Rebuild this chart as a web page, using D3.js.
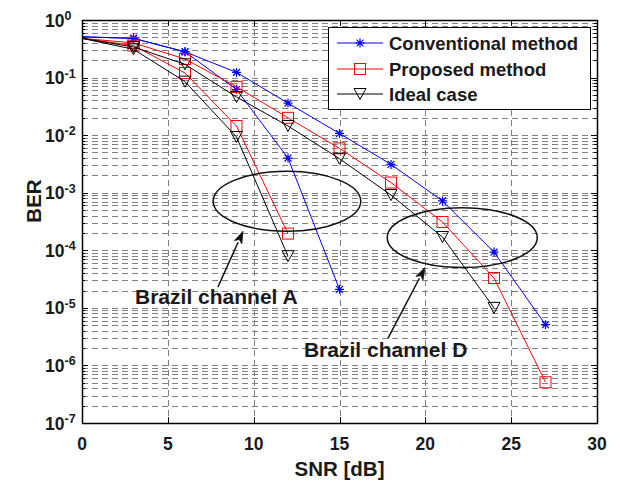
<!DOCTYPE html>
<html>
<head>
<meta charset="utf-8">
<script src="https://cdn.jsdelivr.net/npm/d3@7"></script>
<style>
  html, body { margin: 0; padding: 0; background: #fff; }
  svg { display: block; font-family: "Liberation Sans", Arial, sans-serif; }
</style>
</head>
<body>
<svg id="chart" width="620" height="481"></svg>
<script>
// SNR sample points (dB)
const snr = [0, 3, 6, 9, 12, 15, 18, 21, 24, 27];

// BER curves, Brazil channel A
const convA  = [0.51, 0.48, 0.28, 0.062, 0.0040, 2.1e-5];
const propA  = [0.48, 0.36, 0.12, 0.0144, 1.95e-4];
const idealA = [0.48, 0.31, 0.085, 0.0093, 7.9e-5];

// BER curves, Brazil channel D
const convD  = [0.51, 0.48, 0.28, 0.123, 0.036, 0.0107, 0.0031, 7.2e-4, 9.3e-5, 5.1e-6];
const propD  = [0.48, 0.40, 0.21, 0.069, 0.020, 0.0059, 0.0015, 3.1e-4, 3.3e-5, 5.1e-7];
const idealD = [0.48, 0.34, 0.17, 0.046, 0.0144, 0.0039, 9.1e-4, 1.7e-4, 1.0e-5];

// Legend entries
const legendLabels = ["Conventional method", "Proposed method", "Ideal case"];

// Axis ticks
const xTicks = [0, 5, 10, 15, 20, 25, 30];
const yExponents = [0, -1, -2, -3, -4, -5, -6, -7];

// Annotations (SNR dB, BER)
const ellipseNotes = [
  { cx: 11.94, cy: 7.1e-4, rxDb: 4.3, ryDec: 0.52 },
  { cx: 22.15, cy: 1.66e-4, rxDb: 4.37, ryDec: 0.52 }
];
const arrowNotes = [
  { x1: 7.92, y1: 2.3e-5, x2: 9.38, y2: 2.14e-4 },
  { x1: 17.82, y1: 2.95e-6, x2: 19.98, y2: 5.0e-5 }
];
const textNotes = [
  { x: 3.09, y: 1.15e-5, label: "Brazil channel A" },
  { x: 12.93, y: 1.38e-6, label: "Brazil channel D" }
];

const styles = {
  conv:  { color: "#0000ff", marker: "star" },
  prop:  { color: "#ff0000", marker: "square" },
  ideal: { color: "#000000", marker: "tri" }
};

const series = [
  { key: "conv",  values: convA },
  { key: "conv",  values: convD },
  { key: "prop",  values: propA },
  { key: "prop",  values: propD },
  { key: "ideal", values: idealA },
  { key: "ideal", values: idealD }
];

const svg = d3.select("#chart");
const pLeft = 82, pRight = 597, pTop = 20, pBottom = 423;

const x = d3.scaleLinear().domain([0, 30]).range([pLeft, pRight]);
const y = d3.scaleLog().domain([1e-7, 1]).range([pBottom, pTop]);

// Grid: dashed lines at every 1..9 x 10^n and at each x tick
const gridVals = [];
for (let e = -7; e < 0; e++) {
  for (let k = 1; k <= 9; k++) gridVals.push(k * Math.pow(10, e));
}
const grid = svg.append("g").attr("stroke", "#808080").attr("stroke-width", 1)
  .attr("stroke-dasharray", "6,4").attr("fill", "none");
grid.selectAll("line.h").data(gridVals.filter(v => v > 1e-7)).join("line")
  .attr("class", "h")
  .attr("x1", pLeft).attr("x2", pRight)
  .attr("y1", d => Math.round(y(d)) + 0.5).attr("y2", d => Math.round(y(d)) + 0.5);
grid.selectAll("line.v").data(xTicks.filter(t => t > 0 && t < 30)).join("line")
  .attr("class", "v")
  .attr("y1", pTop).attr("y2", pBottom)
  .attr("x1", d => Math.round(x(d)) + 0.5).attr("x2", d => Math.round(x(d)) + 0.5);

// Tick marks (inward, on all four sides)
const ticks = svg.append("g").attr("stroke", "#000").attr("stroke-width", 1);
xTicks.forEach(t => {
  const px = Math.round(x(t)) + 0.5;
  ticks.append("line").attr("x1", px).attr("x2", px).attr("y1", pBottom).attr("y2", pBottom - 6);
  ticks.append("line").attr("x1", px).attr("x2", px).attr("y1", pTop).attr("y2", pTop + 6);
});
gridVals.concat([1]).forEach(v => {
  const py = Math.round(y(v)) + 0.5;
  const major = Math.abs(Math.log10(v) - Math.round(Math.log10(v))) < 1e-9;
  const len = major ? 6 : 3;
  ticks.append("line").attr("x1", pLeft).attr("x2", pLeft + len).attr("y1", py).attr("y2", py);
  ticks.append("line").attr("x1", pRight).attr("x2", pRight - len).attr("y1", py).attr("y2", py);
});

// Curves
const clipId = "plotclip";
svg.append("clipPath").attr("id", clipId).append("rect")
  .attr("x", pLeft).attr("y", pTop).attr("width", pRight - pLeft).attr("height", pBottom - pTop);

const line = d3.line().x(d => x(d[0])).y(d => y(d[1]));

function drawMarker(g, type, cx, cy, color) {
  if (type === "star") {
    const r = 4.5, r2 = 3.4;
    g.append("path")
      .attr("d", `M${cx - r},${cy}H${cx + r}M${cx},${cy - r}V${cy + r}` +
                 `M${cx - r2},${cy - r2}L${cx + r2},${cy + r2}M${cx - r2},${cy + r2}L${cx + r2},${cy - r2}`)
      .attr("stroke", color).attr("stroke-width", 1.2).attr("fill", "none");
  } else if (type === "square") {
    const s = 5.5;
    g.append("rect").attr("x", cx - s).attr("y", cy - s).attr("width", 2 * s).attr("height", 2 * s)
      .attr("stroke", color).attr("stroke-width", 1).attr("fill", "none");
  } else {
    const w = 6, h = 5.5;
    g.append("path")
      .attr("d", `M${cx - w},${cy - h}L${cx + w},${cy - h}L${cx},${cy + h}Z`)
      .attr("stroke", color).attr("stroke-width", 1).attr("fill", "none");
  }
}

const curves = svg.append("g");
series.forEach(s => {
  const st = styles[s.key];
  const pts = s.values.map((v, i) => [snr[i], v]);
  curves.append("path").datum(pts)
    .attr("d", line)
    .attr("fill", "none").attr("stroke", st.color).attr("stroke-width", 1)
    .attr("clip-path", `url(#${clipId})`);
  const mg = curves.append("g");
  pts.filter(p => p[0] > x.domain()[0]).forEach(p => drawMarker(mg, st.marker, x(p[0]), y(p[1]), st.color));
});

// Ellipses
const ann = svg.append("g");
ellipseNotes.forEach(e => {
  const cx = x(e.cx), cy = y(e.cy);
  const rx = x(e.cx + e.rxDb) - cx;
  const ry = y(e.cy) - y(e.cy * Math.pow(10, e.ryDec));
  ann.append("ellipse").attr("cx", cx).attr("cy", cy).attr("rx", rx).attr("ry", ry)
    .attr("fill", "none").attr("stroke", "#111").attr("stroke-width", 1.5);
});

// Arrows
arrowNotes.forEach(a => {
  const x1 = x(a.x1), y1 = y(a.y1), x2 = x(a.x2), y2 = y(a.y2);
  const ang = Math.atan2(y2 - y1, x2 - x1);
  const L = 12, Wd = 4;
  const bx = x2 - L * Math.cos(ang), by = y2 - L * Math.sin(ang);
  ann.append("line").attr("x1", x1).attr("y1", y1).attr("x2", bx).attr("y2", by)
    .attr("stroke", "#111").attr("stroke-width", 1.5);
  const px = -Math.sin(ang) * Wd, py = Math.cos(ang) * Wd;
  const ix = x2 - (L - 3) * Math.cos(ang), iy = y2 - (L - 3) * Math.sin(ang);
  ann.append("path")
    .attr("d", `M${x2},${y2}L${bx + px},${by + py}L${ix},${iy}L${bx - px},${by - py}Z`)
    .attr("fill", "#111").attr("stroke", "#111").attr("stroke-width", 0.8);
});

textNotes.forEach(t => {
  ann.append("text").attr("x", x(t.x)).attr("y", y(t.y))
    .attr("font-size", 21).attr("font-weight", "bold").attr("fill", "#1a1a1a")
    .text(t.label);
});

// Axes box
svg.append("rect").attr("x", pLeft + 0.5).attr("y", pTop + 0.5)
  .attr("width", pRight - pLeft).attr("height", pBottom - pTop)
  .attr("fill", "none").attr("stroke", "#000").attr("stroke-width", 1.5);

// Tick labels
const labels = svg.append("g").attr("font-weight", "bold").attr("fill", "#1a1a1a");
xTicks.forEach(t => {
  labels.append("text").attr("x", x(t)).attr("y", 449.5).attr("text-anchor", "middle")
    .attr("font-size", 17.5).text(t);
});
yExponents.forEach(e => {
  const py = y(Math.pow(10, e));
  const txt = labels.append("text").attr("x", 45).attr("y", py + 6.5).attr("font-size", 17.5);
  txt.append("tspan").text("10");
  txt.append("tspan").attr("dy", -6.5).attr("font-size", 12.5).text(e === 0 ? "0" : "-" + (-e));
});

// Axis titles
labels.append("text").attr("x", (pLeft + pRight) / 2).attr("y", 476).attr("text-anchor", "middle")
  .attr("font-size", 20.5).text("SNR [dB]");
labels.append("text").attr("transform", "translate(41,201) rotate(-90)").attr("text-anchor", "middle")
  .attr("font-size", 20.5).text("BER");

// Legend
const lg = svg.append("g");
lg.append("rect").attr("x", 328.5).attr("y", 27.5).attr("width", 262).attr("height", 82)
  .attr("fill", "#fff").attr("stroke", "#000").attr("stroke-width", 1);
const legendKeys = ["conv", "prop", "ideal"];
const rowY = [43, 69, 94];
legendKeys.forEach((k, i) => {
  const st = styles[k];
  lg.append("line").attr("x1", 337).attr("x2", 383).attr("y1", rowY[i]).attr("y2", rowY[i])
    .attr("stroke", st.color).attr("stroke-width", 1);
  drawMarker(lg, st.marker, 360, rowY[i], st.color);
  lg.append("text").attr("x", 389).attr("y", rowY[i] + 6.5)
    .attr("font-size", 18.5).attr("font-weight", "bold").attr("fill", "#1a1a1a")
    .text(legendLabels[i]);
});
</script>
</body>
</html>
